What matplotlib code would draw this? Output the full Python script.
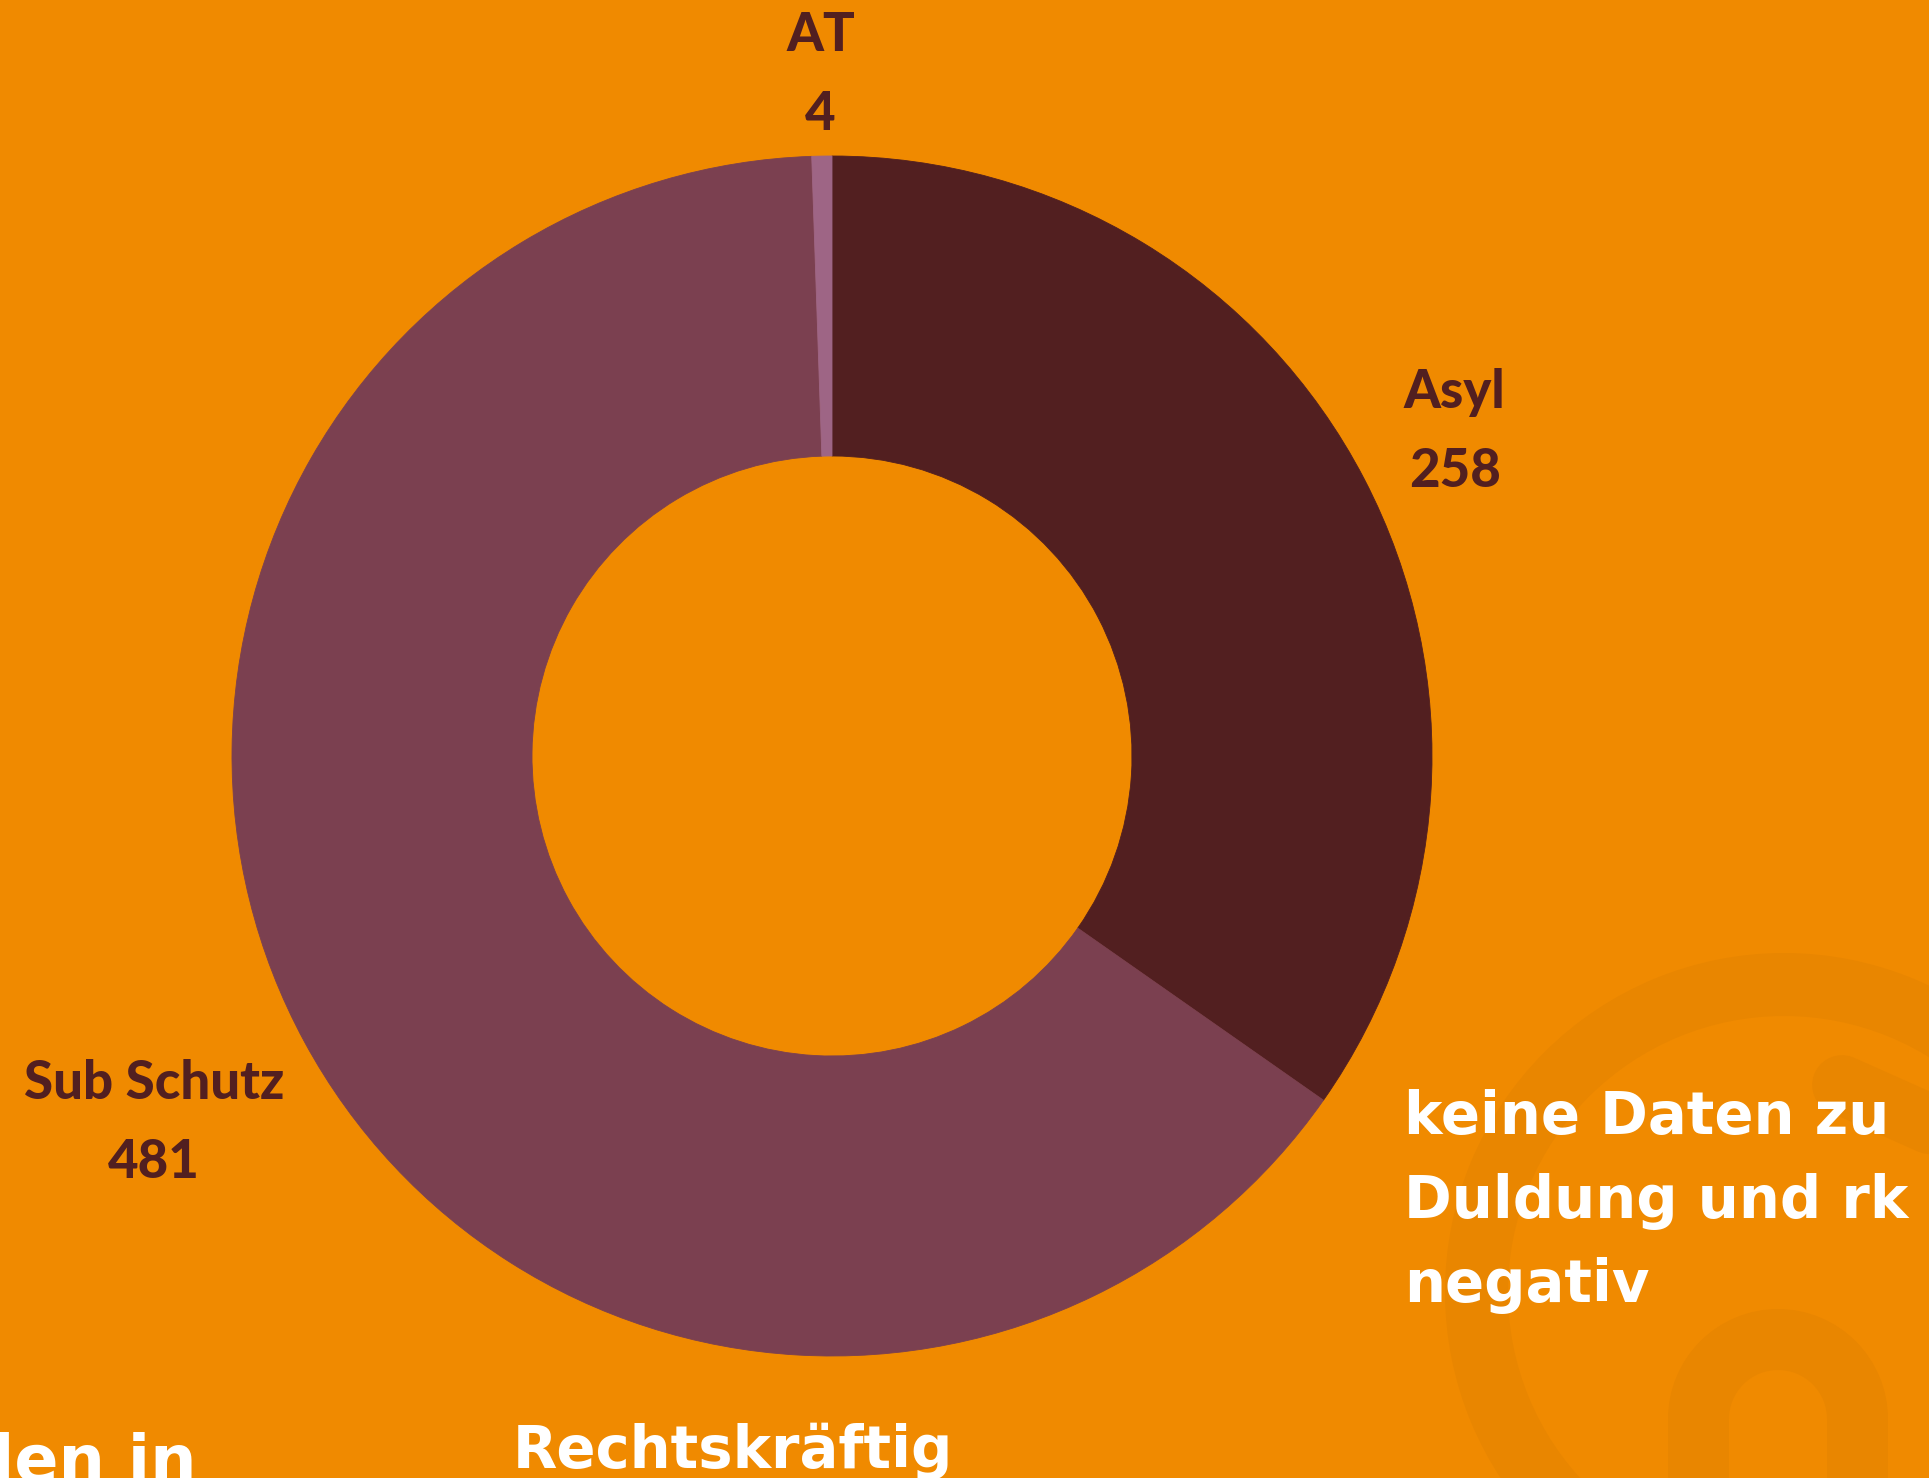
import matplotlib
matplotlib.use("Agg")
import matplotlib.pyplot as plt
from matplotlib.patches import Wedge, Rectangle
import numpy as np

# ---- data ----
categories = ["Asyl", "Sub Schutz", "AT"]
values = [258, 481, 4]
side_lines = ["keine Daten zu", "Duldung und rk", "negativ"]
bottom_title = "Rechtskräftig"
left_fragment = "len in"

# ---- style ----
slice_colors = ["#521F20", "#7B4050", "#9E6585"]
label_dist = [1.17, 1.285, 1.135]
W, H = 1929, 1478
BG = "#F08A00"
WM = "#E98600"
LABEL_C = "#521F20"
CX, CY, R = 832, 756, 600


def Y(y):
    return H - y


fig = plt.figure(figsize=(W / 100, H / 100), dpi=100, facecolor=BG)
ax = fig.add_axes([0, 0, 1, 1])
ax.set_facecolor(BG)

# faint watermark shapes
ax.add_patch(Wedge((1784, Y(1292)), 339, 0, 360, width=63, color=WM, lw=0, zorder=0))
ax.add_patch(Wedge((1778, Y(1419)), 110, 0, 180, width=61, color=WM, lw=0, zorder=0))
ax.add_patch(Rectangle((1668, Y(1500)), 61, 81, color=WM, lw=0, zorder=0))
ax.add_patch(Rectangle((1827, Y(1500)), 61, 81, color=WM, lw=0, zorder=0))
ax.plot([1842, 2010], [Y(1085), Y(1160)], color=WM, lw=43, solid_capstyle="round", zorder=0)

wedges, _ = ax.pie(values, colors=slice_colors, startangle=90, counterclock=False,
                   radius=R, center=(CX, Y(CY)),
                   wedgeprops=dict(width=R / 2, linewidth=0))
for w in wedges:
    w.set_zorder(2)
    w.set_edgecolor(w.get_facecolor())
    w.set_linewidth(0.6)

for w, cat, val, d in zip(wedges, categories, values, label_dist):
    th = np.deg2rad((w.theta1 + w.theta2) / 2)
    x = CX + d * R * np.cos(th)
    y = Y(CY) + d * R * np.sin(th)
    ax.text(x, y, f"{cat}\n{val}", ha="center", va="center", color=LABEL_C,
            fontsize=38, fontweight="black", family=["Lato", "DejaVu Sans"],
            linespacing=1.75, zorder=3)

baselines = [1134, 1218, 1302]
for line, b in zip(side_lines, baselines):
    ax.text(1404, Y(b), line, ha="left", va="baseline", color="white",
            fontsize=41.5, fontweight="bold", family="DejaVu Sans", zorder=3)

ax.text(733, Y(1468), bottom_title, ha="center", va="baseline", color="white",
        fontsize=41.5, fontweight="bold", family="DejaVu Sans", zorder=3)
ax.text(-8, Y(1482), left_fragment, ha="left", va="baseline", color="white",
        fontsize=47, fontweight="bold", family="DejaVu Sans", zorder=3)

ax.set_xlim(0, W)
ax.set_ylim(0, H)
ax.set_aspect("auto")
ax.axis("off")

fig.savefig("out.png", dpi=100, facecolor=BG)
